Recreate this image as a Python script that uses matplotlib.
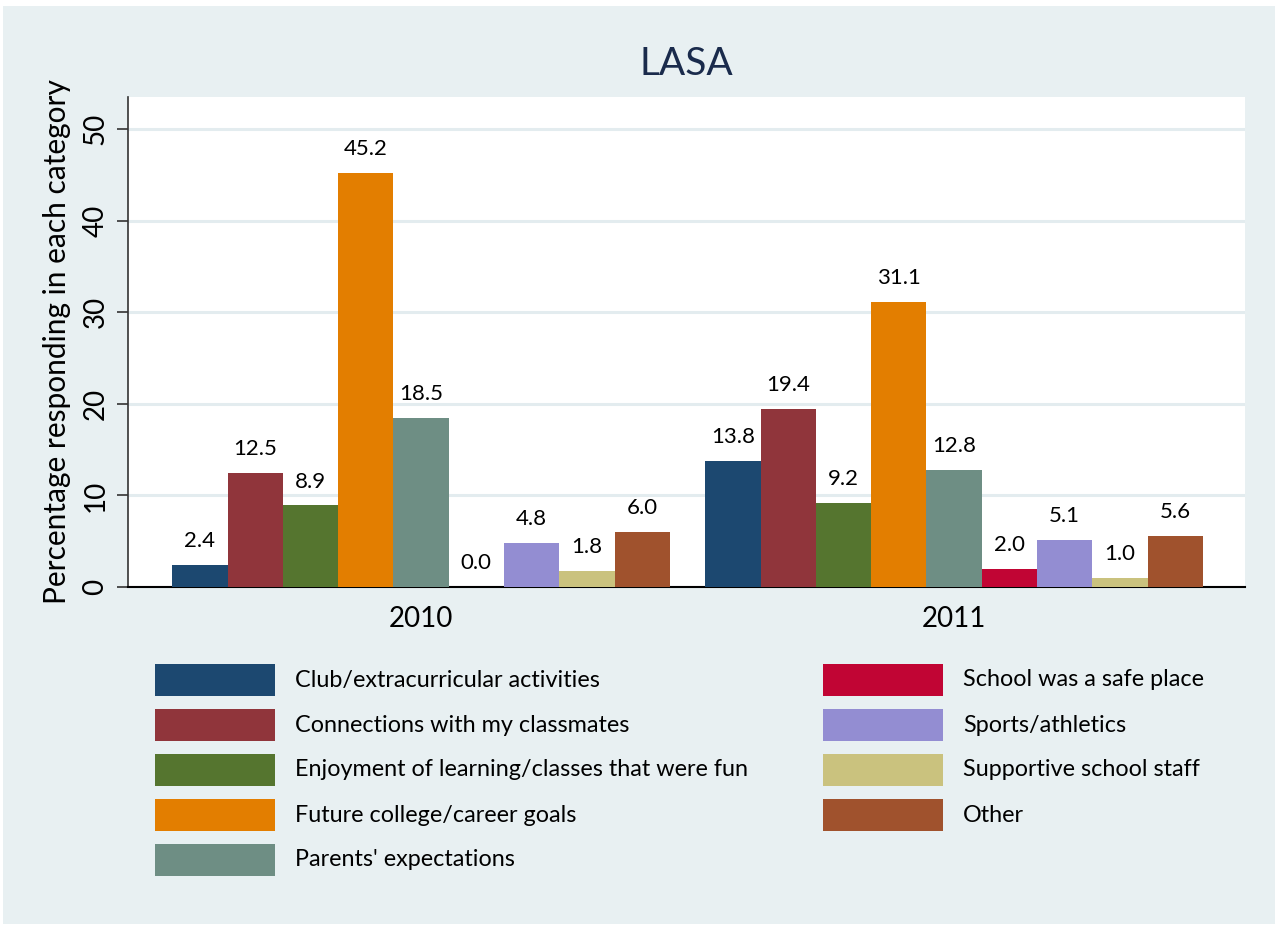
import numpy as np
import matplotlib
matplotlib.use("Agg")
import matplotlib.pyplot as plt
from matplotlib.patches import Rectangle

plt.rcParams['font.family'] = ['Lato', 'DejaVu Sans']

years = ["2010", "2011"]
categories = ["Club/extracurricular activities", "Connections with my classmates",
              "Enjoyment of learning/classes that were fun", "Future college/career goals",
              "Parents' expectations", "School was a safe place", "Sports/athletics",
              "Supportive school staff", "Other"]
vals_2010 = [2.4, 12.5, 8.9, 45.2, 18.5, 0.0, 4.8, 1.8, 6.0]
vals_2011 = [13.8, 19.4, 9.2, 31.1, 12.8, 2.0, 5.1, 1.0, 5.6]
colors = ["#1c4870", "#90353b", "#55752f", "#e37e00", "#6e8e84",
          "#c10534", "#938dd2", "#cac27e", "#a0522d"]

W, H = 1278, 926
fig = plt.figure(figsize=(W / 100, H / 100), dpi=100, facecolor="white")
bg = "#e8f0f2"
fig.add_artist(Rectangle((3 / W, 2 / H), 1272 / W, 918 / H, transform=fig.transFigure,
                         facecolor=bg, edgecolor="none", zorder=-10))

ax = fig.add_axes([128 / W, 1 - 587 / H, 1117 / W, 490 / H])
ax.set_facecolor("white")

n = len(categories)
group_start = [0.0, 9.64]
for g, vals in enumerate([vals_2010, vals_2011]):
    xs = group_start[g] + np.arange(n) + 0.5
    ax.bar(xs, vals, width=1.0, color=colors, zorder=3)
    for x, v in zip(xs, vals):
        ax.annotate(f"{v:.1f}", (x, v), xytext=(0, 10), textcoords="offset points",
                    ha="center", va="bottom", fontsize=16, color="black")

ax.set_xlim(-0.8, 19.4)
ax.set_ylim(0, 53.5)
ax.set_xticks([s + n / 2 for s in group_start])
ax.set_xticklabels(years, fontsize=20)
ax.tick_params(axis="x", length=0, pad=14)
ax.set_yticks([0, 10, 20, 30, 40, 50])
ax.set_yticklabels(["0", "10", "20", "30", "40", "50"], rotation=90, va="center", fontsize=20)
ax.tick_params(axis="y", length=8, width=1.2, color="#333333", pad=6)
ax.yaxis.grid(True, color="#e3ecef", linewidth=2.2, zorder=0)
ax.set_axisbelow(True)
for s in ["top", "right"]:
    ax.spines[s].set_visible(False)
ax.spines["left"].set_color("#333333")
ax.spines["left"].set_linewidth(1.2)
ax.spines["bottom"].set_color("black")
ax.spines["bottom"].set_linewidth(1.5)
ax.set_ylabel("Percentage responding in each category", fontsize=21.5, labelpad=8)
ax.set_title("LASA", fontsize=28, color="#1a2b4c", pad=16)

# legend, two columns (5 + 4)
for i, (lab, c) in enumerate(zip(categories, colors)):
    col, row = divmod(i, 5)
    px = 155 + col * 668
    cy = 680 + row * 45
    fig.add_artist(Rectangle((px / W, 1 - (cy + 16) / H), 120 / W, 32 / H,
                             transform=fig.transFigure, facecolor=c, edgecolor="none"))
    fig.text((px + 140) / W, 1 - cy / H, lab, ha="left", va="center", fontsize=16.8)

fig.savefig("out.png", dpi=100, facecolor="white")
